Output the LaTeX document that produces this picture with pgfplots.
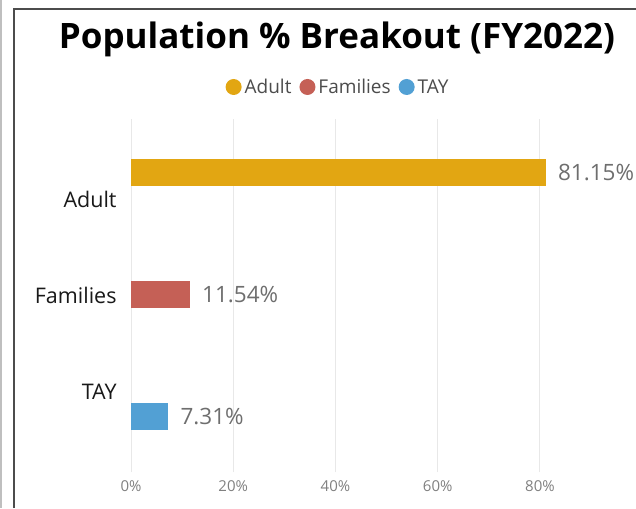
\documentclass[border=0pt]{standalone}
\usepackage{fontspec}
\setmainfont{Open Sans}
\usepackage{pgfplots}
\pgfplotsset{compat=1.18}
\definecolor{cAdult}{RGB}{226,166,18}
\definecolor{cFam}{RGB}{197,96,86}
\definecolor{cTAY}{RGB}{82,160,212}
\definecolor{cGrid}{RGB}{232,232,232}
\definecolor{cTick}{RGB}{128,128,128}
\definecolor{cVal}{RGB}{110,110,110}
\pgfplotsset{circlelegend/.style={legend image code/.code={\fill[##1] (8pt,0pt) circle (8pt);}}}
\begin{document}
\begin{tikzpicture}[x=1pt,y=1pt]
\useasboundingbox (0,0) rectangle (636,-508);
\fill[white] (0,0) rectangle (636,-508);
\begin{axis}[
  at={(131pt,-472pt)}, anchor=south west,
  scale only axis, width=501pt, height=353pt,
  xbar, bar width=27pt,
  xmin=0, xmax=98, ymin=-0.84, ymax=2.84,
  /pgf/number format/assume math mode=true,
  xtick={0,20,40,60,80},
  xticklabel={\pgfmathprintnumber{\tick}\%},
  ytick={0,1,2}, yticklabels={TAY,Families,Adult},
  axis line style={draw=none},
  major tick style={draw=none},
  xmajorgrids, grid style={cGrid, line width=1pt},
  xticklabel style={font=\fontsize{15}{18}\selectfont, text=cTick, inner sep=0pt, yshift=-8pt},
  yticklabel style={font=\fontsize{21.5}{25}\selectfont, text=black!90, inner sep=0pt, xshift=-10pt},
  every axis title shift=0pt,
  title={Population \% Breakout (FY2022)},
  title style={font=\fontsize{35}{40}\bfseries\selectfont, at={(axis description cs:0.411,1.2011)}, anchor=base, inner sep=0pt},
  point meta=x,
  nodes near coords={\pgfmathprintnumber[fixed,precision=2,fixed zerofill]{\pgfplotspointmeta}\%},
  every node near coord/.append style={anchor=west, inner sep=0pt, xshift=12pt, font=\fontsize{22.5}{26}\selectfont, text=cVal},
  legend columns=-1,
  legend style={draw=none, fill=none, at={(axis description cs:0.4112,1.0907)}, anchor=center,
    font=\fontsize{19}{23}\selectfont, text=black!70,
    nodes={inner sep=0pt},
    /tikz/every odd column/.append style={column sep=3pt},
    /tikz/every even column/.append style={column sep=8pt}},
]
\addplot[circlelegend, fill=cAdult, draw=none, bar shift=27pt] coordinates {(81.15,2)};
\addlegendentry{Adult}
\addplot[circlelegend, fill=cFam, draw=none, bar shift=1pt] coordinates {(11.54,1)};
\addlegendentry{Families}
\addplot[circlelegend, fill=cTAY, draw=none, bar shift=-25pt] coordinates {(7.31,0)};
\addlegendentry{TAY}
\end{axis}
\draw[line width=1.5pt, black!25] (0.75,0) -- (0.75,-508);
\draw[line width=2pt, black!70] (14,-508) -- (14,-9) -- (636,-9);
\end{tikzpicture}
\end{document}
